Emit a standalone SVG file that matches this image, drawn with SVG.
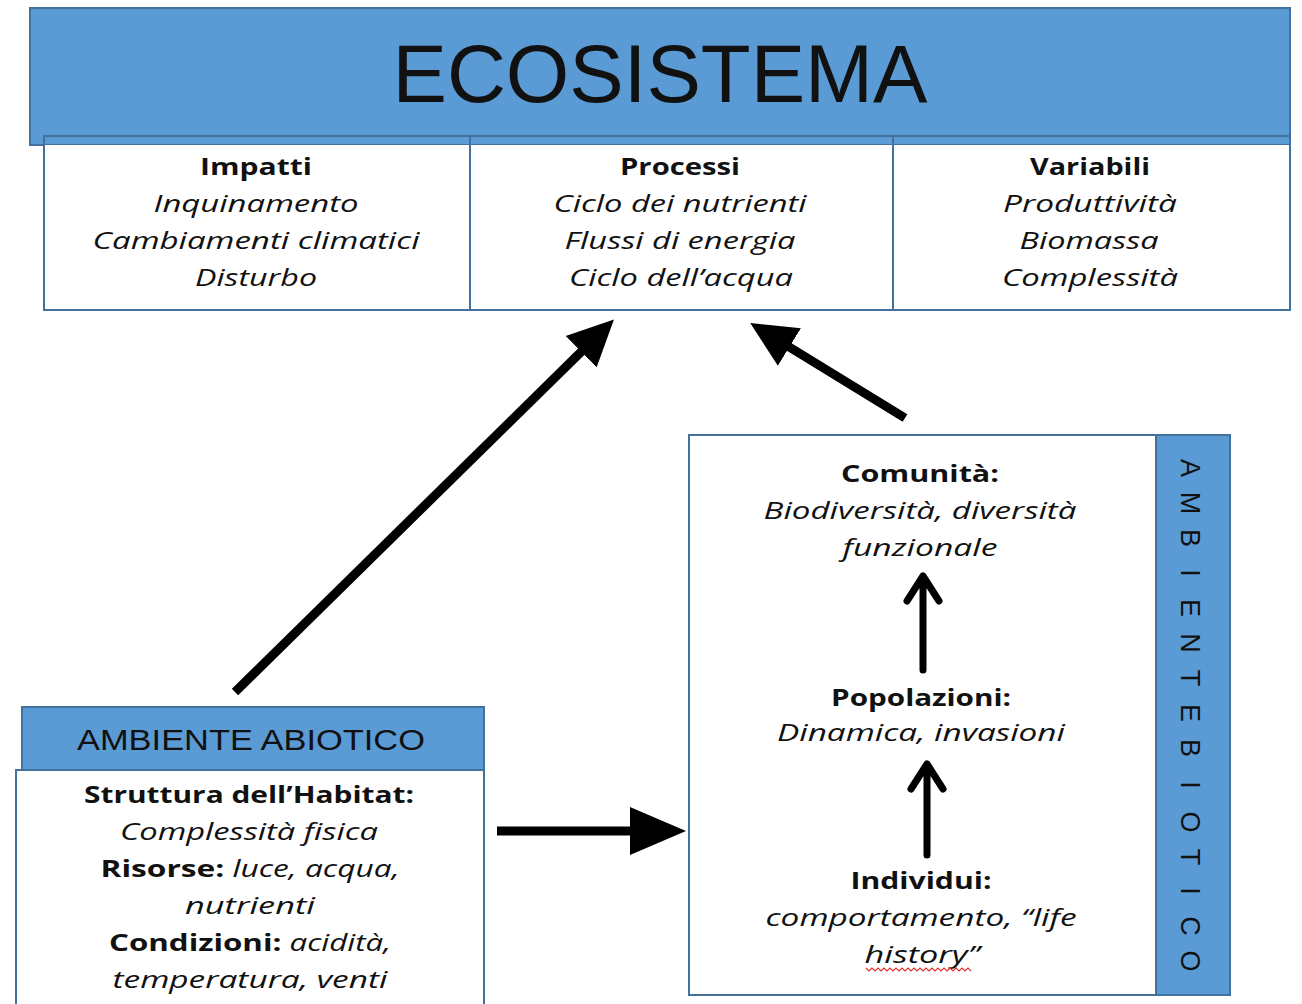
<svg xmlns="http://www.w3.org/2000/svg" width="1302" height="1004" viewBox="0 0 1302 1004">
  <style>
    .band { fill: #5B9BD5; stroke: #41719C; stroke-width: 2; }
    .cell { fill: #FFFFFF; stroke: #41719C; stroke-width: 2; }
    .rule { stroke: #41719C; stroke-width: 2; fill: none; }
    text { font-family: "Open Sans", "Liberation Sans", sans-serif; fill: #111111; text-anchor: middle; }
    .title { font-family: "Liberation Sans", sans-serif; font-size: 81px; }
    .hd { font-size: 24px; font-weight: bold; }
    .it { font-size: 24px; font-style: italic; }
    .mix { font-size: 24px; }
    .bandlbl { font-family: "Liberation Sans", sans-serif; font-size: 29px; }
    .vert { font-family: "Liberation Sans", sans-serif; font-size: 27px; }
    .conn { stroke: #000000; stroke-width: 9; fill: none; }
    .thin { stroke: #000000; stroke-width: 7; fill: none; stroke-linecap: round; stroke-linejoin: round; }
  </style>
  <defs>
    <marker id="head" markerUnits="userSpaceOnUse" markerWidth="50" markerHeight="50" refX="4" refY="22" orient="auto" viewBox="0 0 50 44">
      <path d="M0,0 L46,22 L0,44 Z" fill="#000000"/>
    </marker>
    <marker id="headLg" markerUnits="userSpaceOnUse" markerWidth="60" markerHeight="52" refX="4" refY="24" orient="auto" viewBox="0 0 60 48">
      <path d="M0,0 L56,24 L0,48 Z" fill="#000000"/>
    </marker>
  </defs>

  <!-- Ecosystem header with its three-column table -->
  <g id="ecosistema">
    <rect class="band" x="30" y="8" width="1260" height="137"/>
    <text class="title" x="660" y="102" textLength="535" lengthAdjust="spacingAndGlyphs">ECOSISTEMA</text>
    <rect x="45" y="145" width="1244" height="164" fill="#FFFFFF"/>
    <rect class="rule" x="44" y="136" width="1246" height="174"/>
    <line class="rule" x1="470" y1="136" x2="470" y2="310"/>
    <line class="rule" x1="893" y1="136" x2="893" y2="310"/>
  </g>

  <g id="impatti">
    <text class="hd" x="256" y="175" textLength="112" lengthAdjust="spacingAndGlyphs">Impatti</text>
    <text class="it" x="256" y="212" textLength="205" lengthAdjust="spacingAndGlyphs">Inquinamento</text>
    <text class="it" x="256" y="249" textLength="327" lengthAdjust="spacingAndGlyphs">Cambiamenti climatici</text>
    <text class="it" x="256" y="286" textLength="122" lengthAdjust="spacingAndGlyphs">Disturbo</text>
  </g>

  <g id="processi">
    <text class="hd" x="680" y="175" textLength="120" lengthAdjust="spacingAndGlyphs">Processi</text>
    <text class="it" x="680" y="212" textLength="253" lengthAdjust="spacingAndGlyphs">Ciclo dei nutrienti</text>
    <text class="it" x="680" y="249" textLength="231" lengthAdjust="spacingAndGlyphs">Flussi di energia</text>
    <text class="it" x="681" y="286" textLength="224" lengthAdjust="spacingAndGlyphs">Ciclo dell’acqua</text>
  </g>

  <g id="variabili">
    <text class="hd" x="1090" y="175" textLength="120" lengthAdjust="spacingAndGlyphs">Variabili</text>
    <text class="it" x="1090" y="212" textLength="174" lengthAdjust="spacingAndGlyphs">Produttività</text>
    <text class="it" x="1089" y="249" textLength="139" lengthAdjust="spacingAndGlyphs">Biomassa</text>
    <text class="it" x="1090" y="286" textLength="176" lengthAdjust="spacingAndGlyphs">Complessità</text>
  </g>

  <!-- Abiotic environment -->
  <g id="ambiente-abiotico">
    <rect class="cell" x="16" y="770" width="468" height="245"/>
    <rect class="band" x="22" y="707" width="462" height="63"/>
    <text class="bandlbl" x="251" y="750" textLength="348" lengthAdjust="spacingAndGlyphs">AMBIENTE ABIOTICO</text>
    <text class="hd" x="249" y="803" textLength="330" lengthAdjust="spacingAndGlyphs">Struttura dell’Habitat:</text>
    <text class="it" x="249" y="840" textLength="258" lengthAdjust="spacingAndGlyphs">Complessità fisica</text>
    <text class="mix" x="250" y="877" textLength="299" lengthAdjust="spacingAndGlyphs"><tspan font-weight="bold">Risorse: </tspan><tspan font-style="italic">luce, acqua,</tspan></text>
    <text class="it" x="250" y="914" textLength="130" lengthAdjust="spacingAndGlyphs">nutrienti</text>
    <text class="mix" x="250" y="951" textLength="282" lengthAdjust="spacingAndGlyphs"><tspan font-weight="bold">Condizioni: </tspan><tspan font-style="italic">acidità,</tspan></text>
    <text class="it" x="250" y="988" textLength="275" lengthAdjust="spacingAndGlyphs">temperatura, venti</text>
  </g>

  <!-- Biotic environment -->
  <g id="ambiente-biotico">
    <rect class="cell" x="689" y="435" width="541" height="560"/>
    <rect class="band" x="1156" y="435" width="74" height="560"/>
    <text class="vert" transform="translate(1181,0) rotate(90)" y="0"
      x="468 503 538 573 608 643 678 713 748 785 822 857 891 926 961">AMBIENTEBIOTICO</text>
  </g>

  <g id="comunita">
    <text class="hd" x="920" y="482" textLength="158" lengthAdjust="spacingAndGlyphs">Comunità:</text>
    <text class="it" x="920" y="519" textLength="313" lengthAdjust="spacingAndGlyphs">Biodiversità, diversità</text>
    <text class="it" x="920" y="556" textLength="155" lengthAdjust="spacingAndGlyphs">funzionale</text>
  </g>

  <g id="popolazioni">
    <text class="hd" x="921" y="706" textLength="180" lengthAdjust="spacingAndGlyphs">Popolazioni:</text>
    <text class="it" x="921" y="741" textLength="288" lengthAdjust="spacingAndGlyphs">Dinamica, invasioni</text>
  </g>

  <g id="individui">
    <text class="hd" x="921" y="889" textLength="141" lengthAdjust="spacingAndGlyphs">Individui:</text>
    <text class="it" x="921" y="926" textLength="311" lengthAdjust="spacingAndGlyphs">comportamento, “life</text>
    <text class="it" x="922" y="963" textLength="115" lengthAdjust="spacingAndGlyphs">history”</text>
    <path d="M866,968 l3,3 l3,-3 l3,3 l3,-3 l3,3 l3,-3 l3,3 l3,-3 l3,3 l3,-3 l3,3 l3,-3 l3,3 l3,-3 l3,3 l3,-3 l3,3 l3,-3 l3,3 l3,-3 l3,3 l3,-3 l3,3 l3,-3 l3,3 l3,-3 l3,3 l3,-3 l3,3 l3,-3 l3,3 l3,-3 l3,3 l3,-3 l3,3" fill="none" stroke="#E03030" stroke-width="1.2"/>
  </g>

  <!-- Connectors -->
  <g id="connectors">
    <line class="conn" x1="235" y1="692" x2="584" y2="349" marker-end="url(#head)"/>
    <line class="conn" x1="905" y1="418" x2="786" y2="345" marker-end="url(#head)"/>
    <line class="conn" x1="497" y1="831" x2="634" y2="831" marker-end="url(#headLg)"/>
    <path class="thin" d="M923,670 V576 M907,601 L923,576 L939,601"/>
    <path class="thin" d="M927,855 V764 M911,789 L927,764 L943,789"/>
  </g>
</svg>
